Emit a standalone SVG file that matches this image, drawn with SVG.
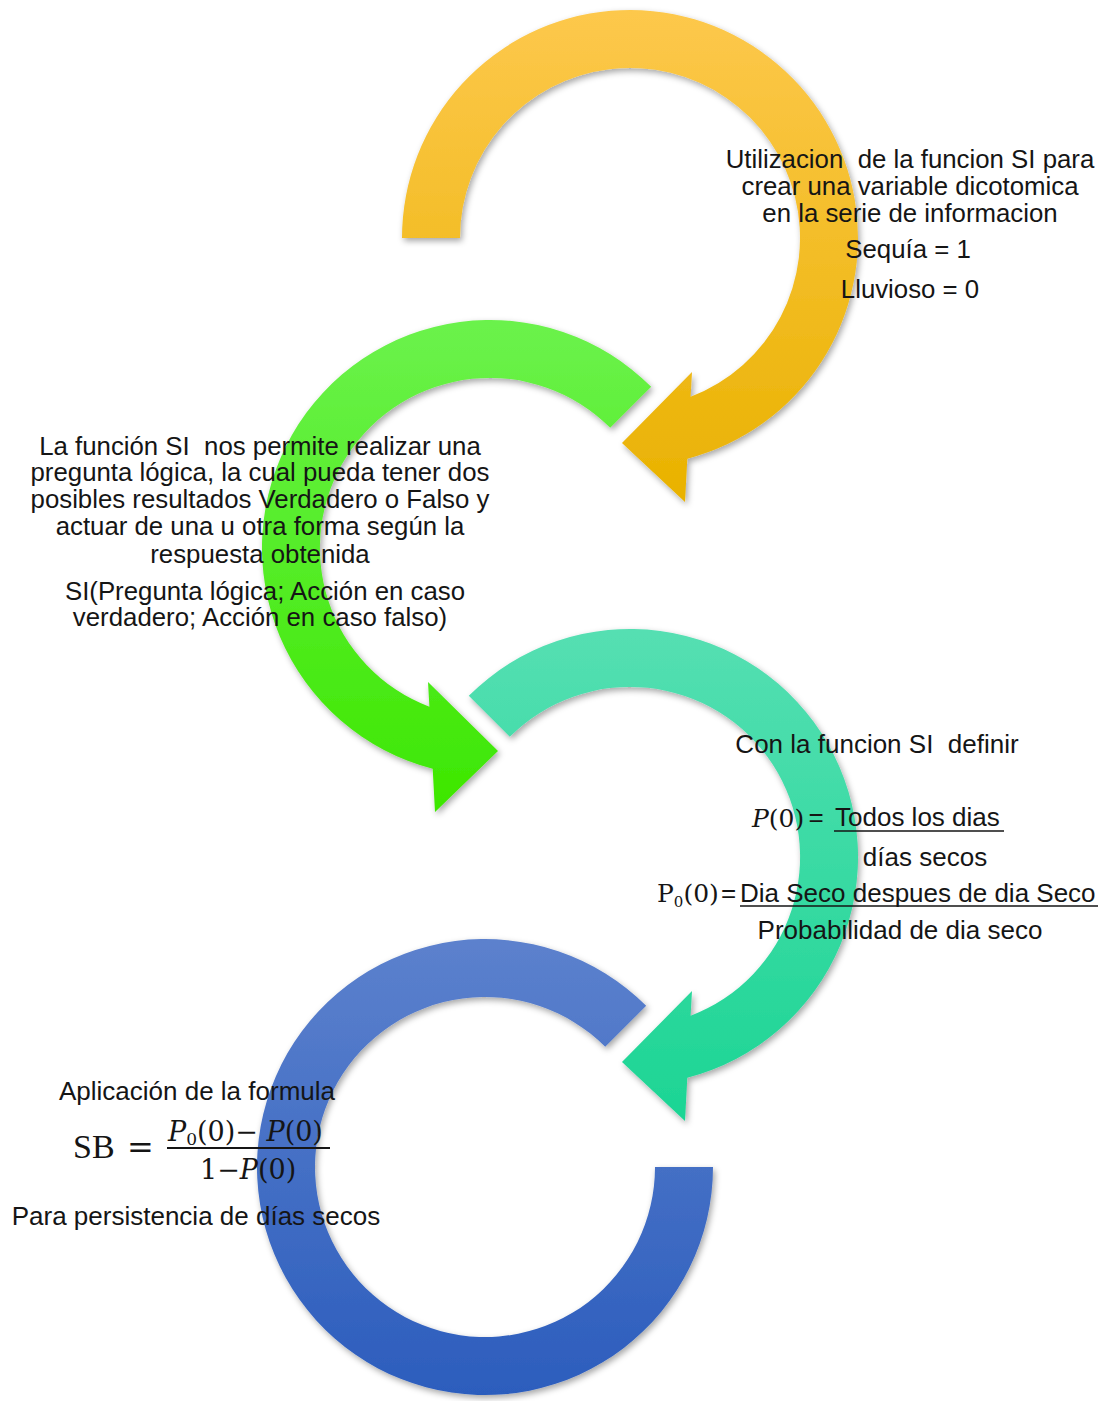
<svg xmlns="http://www.w3.org/2000/svg" width="1104" height="1401" viewBox="0 0 1104 1401">
<style>
.t{font-family:"Liberation Sans",Arial,sans-serif;font-size:26px;fill:#151515;text-anchor:middle}
.a{font-size:25.8px}
.s{font-family:"Liberation Sans",Arial,sans-serif;font-size:26px;fill:#151515}
.m{font-family:"DejaVu Serif","Liberation Serif",serif;fill:#151515}
.u{stroke:#151515;stroke-width:1.6}
</style>
<defs>
<filter id="sh" x="-10%" y="-10%" width="120%" height="120%">
<feDropShadow dx="2" dy="3" stdDeviation="3" flood-color="#000" flood-opacity="0.35"/>
</filter>
<linearGradient id="gY" x1="0" y1="0" x2="0" y2="1"><stop offset="0" stop-color="#FDC84C"/><stop offset="1" stop-color="#E9B200"/></linearGradient>
<linearGradient id="gG" x1="0" y1="0" x2="0" y2="1"><stop offset="0" stop-color="#6BF24C"/><stop offset="1" stop-color="#3DE700"/></linearGradient>
<linearGradient id="gT" x1="0" y1="0" x2="0" y2="1"><stop offset="0" stop-color="#55DFB2"/><stop offset="1" stop-color="#1CD594"/></linearGradient>
<linearGradient id="gB" x1="0" y1="0" x2="0" y2="1"><stop offset="0" stop-color="#5C81CD"/><stop offset="1" stop-color="#2C5DBD"/></linearGradient>
</defs>
<g id="connectors"></g>
<g id="arrow1" filter="url(#sh)">
<path fill="url(#gY)" d="M402,238 A228,228 0 1 1 687.3,458.7 L685,502 L622,443 L692,372 L690.6,396.8 A170,170 0 1 0 460,238 Z"/>
</g>
<g id="arrow2" filter="url(#sh)">
<path fill="url(#gG)" d="M651.2,386.8 A228,228 0 1 0 432.7,768.7 L435,812 L498,751 L428,682 L429.4,706.8 A170,170 0 1 1 610.2,427.8 Z"/>
</g>
<g id="arrow3" filter="url(#sh)">
<path fill="url(#gT)" d="M468.8,695.8 A228,228 0 1 1 687.3,1077.7 L685,1121 L622,1062 L692,991 L690.6,1015.8 A170,170 0 1 0 509.8,736.8 Z"/>
</g>
<g id="arrow4" filter="url(#sh)">
<path fill="url(#gB)" d="M646.2,1005.8 A228,228 0 1 0 713,1167 L655,1167 A170,170 0 1 1 605.2,1046.8 Z"/>
</g>
<g id="text1">
<text class="t a" x="910" y="168" xml:space="preserve">Utilizacion  de la funcion SI para</text>
<text class="t a" x="910" y="195">crear una variable dicotomica</text>
<text class="t a" x="910" y="222">en la serie de informacion</text>
<text class="t a" x="908" y="258">Sequía = 1</text>
<text class="t a" x="910" y="298">Lluvioso = 0</text>
</g>
<g id="text2">
<text class="t a" x="260" y="455" xml:space="preserve">La función SI  nos permite realizar una</text>
<text class="t a" x="260" y="481">pregunta lógica, la cual pueda tener dos</text>
<text class="t a" x="260" y="508">posibles resultados Verdadero o Falso y</text>
<text class="t a" x="260" y="535">actuar de una u otra forma según la</text>
<text class="t a" x="260" y="563">respuesta obtenida</text>
<text class="t a" x="265" y="600">SI(Pregunta lógica; Acción en caso</text>
<text class="t a" x="260" y="626">verdadero; Acción en caso falso)</text>
</g>
<g id="text3">
<text class="t" x="877" y="753" xml:space="preserve">Con la funcion SI  definir</text>
<text class="m" x="752" y="827" font-size="25"><tspan font-style="italic">P</tspan>(0)</text>
<text class="t" x="816" y="826">=</text>
<text class="s" x="835" y="826">Todos los dias</text>
<line class="u" x1="834" y1="831" x2="1004" y2="831"/>
<text class="t" x="925" y="866">días secos</text>
<text class="m" x="657" y="902" font-size="25">P<tspan font-size="15" dy="5">0</tspan><tspan dy="-5">(0)</tspan></text>
<text class="s" x="721" y="902">=</text>
<text class="s" x="740" y="902">Dia Seco despues de dia Seco</text>
<line class="u" x1="740" y1="906" x2="1098" y2="906"/>
<text class="t" x="900" y="939">Probabilidad de dia seco</text>
</g>
<g id="text4">
<text class="t" x="197" y="1100">Aplicación de la formula</text>
<text x="73" y="1158" font-family="Liberation Serif,serif" font-size="34" fill="#151515">SB</text>
<text class="m" x="127" y="1158" font-size="32">=</text>
<text class="m" x="168" y="1141" font-size="27"><tspan font-style="italic">P</tspan><tspan font-size="17" dy="4">0</tspan><tspan dy="-4">(0)− </tspan><tspan font-style="italic">P</tspan>(0)</text>
<line x1="167" y1="1148" x2="330" y2="1148" stroke="#151515" stroke-width="1.8"/>
<text class="m" x="200" y="1179" font-size="27">1−<tspan font-style="italic">P</tspan>(0)</text>
<text class="t" x="196" y="1225">Para persistencia de días secos</text>
</g>
</svg>
